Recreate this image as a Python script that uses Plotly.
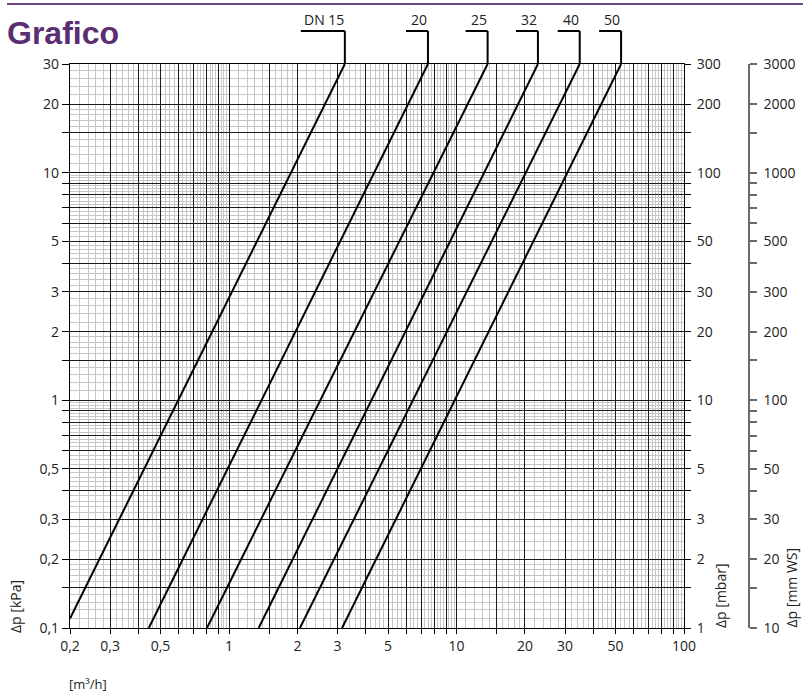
import math
import plotly.graph_objects as go

# Kennlinien: Durchfluss [m3/h] und Druckverlust [kPa] an Anfang/Ende jeder Linie
dn_labels = ["DN 15", "20", "25", "32", "40", "50"]
q_start = [0.2, 0.444, 0.80, 1.35, 2.05, 3.14]
dp_start = [0.11, 0.1, 0.1, 0.1, 0.1, 0.1]
q_end = [3.23, 7.49, 13.7, 22.8, 34.8, 52.9]
dp_end = [30, 30, 30, 30, 30, 30]

# Achsen-Beschriftungen
x_labels = [0.2, 0.3, 0.5, 1, 2, 3, 5, 10, 20, 30, 50, 100]
y_labels = [0.1, 0.2, 0.3, 0.5, 1, 2, 3, 5, 10, 20, 30]
mbar_labels = [1, 2, 3, 5, 10, 20, 30, 50, 100, 200, 300]
mmws_labels = [10, 20, 30, 50, 100, 200, 300, 500, 1000, 2000, 3000]

# Raster pro Dekade: schwarze Linien und graue Zwischenlinien
major_steps = [1, 1.5, 2, 3, 4, 5, 6, 7, 8, 9]
minor_steps = [1.1, 1.2, 1.3, 1.4, 1.6, 1.7, 1.8, 1.9,
               2.2, 2.4, 2.6, 2.8, 3.2, 3.4, 3.6, 3.8, 4.2, 4.4, 4.6, 4.8,
               5.25, 5.5, 5.75, 6.25, 6.5, 6.75, 7.25, 7.5, 7.75,
               8.25, 8.5, 8.75, 9.25, 9.5, 9.75]

X_MIN, X_MAX = 0.2, 100
Y_MIN, Y_MAX = 0.1, 30

W, H = 803, 693
M_L, M_R, M_T, M_B = 70, 10, 64, 65
PW = W - M_L - M_R
PH = H - M_T - M_B
X_DOMAIN_END = (684 - M_L) / PW
PX_PER_DECADE = PW * X_DOMAIN_END / math.log10(X_MAX / X_MIN)


def grid_values(steps, vmin, vmax):
    vals = []
    for dec in [0.01, 0.1, 1, 10, 100, 1000]:
        for s in steps:
            v = round(s * dec, 6)
            if vmin - 1e-9 <= v <= vmax + 1e-9:
                vals.append(v)
    return sorted(set(vals))


def fmt(v):
    s = ("%g" % v)
    return s.replace(".", ",")


def tick_text(vals, labels):
    return [fmt(v) if any(abs(v - l) < 1e-9 for l in labels) else "" for v in vals]


def py_paper(py):
    return (H - M_B - py) / PH


def px_paper(px):
    return (px - M_L) / PW


x_major = grid_values(major_steps, X_MIN, X_MAX)
x_minor = grid_values(minor_steps, X_MIN, X_MAX)
y_major = grid_values(major_steps, Y_MIN, Y_MAX)
y_minor = grid_values(minor_steps, Y_MIN, Y_MAX)
y2_major = [round(v * 10, 6) for v in y_major]
y3_major = [round(v * 100, 6) for v in y_major]

font_family = "Open Sans"
text_color = "#222222"

fig = go.Figure()
for i in range(len(dn_labels)):
    fig.add_trace(go.Scatter(
        x=[q_start[i], q_end[i]],
        y=[dp_start[i], dp_end[i]],
        mode='lines',
        line=dict(color='black', width=2),
        showlegend=False,
        hoverinfo='skip'
    ))
    # gleiche Linie in mbar und mm WS (unsichtbar, damit die rechten Achsen gezeichnet werden)
    fig.add_trace(go.Scatter(
        x=[q_start[i], q_end[i]],
        y=[dp_start[i] * 10, dp_end[i] * 10],
        yaxis='y2', mode='lines', opacity=0,
        line=dict(color='black', width=0),
        showlegend=False, hoverinfo='skip'
    ))
    fig.add_trace(go.Scatter(
        x=[q_start[i], q_end[i]],
        y=[dp_start[i] * 100, dp_end[i] * 100],
        yaxis='y3', mode='lines', opacity=0,
        line=dict(color='black', width=0),
        showlegend=False, hoverinfo='skip'
    ))

shapes = []
annotations = []
lead_y = py_paper(31)
for i, lab in enumerate(dn_labels):
    seg = 44 if i == 0 else 22
    q_left = q_end[i] / 10 ** (seg / PX_PER_DECADE)
    shapes.append(dict(type='line', xref='x', yref='paper',
                       x0=q_end[i], x1=q_end[i], y0=1, y1=lead_y,
                       line=dict(color='black', width=2)))
    shapes.append(dict(type='line', xref='x', yref='paper',
                       x0=q_left, x1=q_end[i], y0=lead_y, y1=lead_y,
                       line=dict(color='black', width=2)))
    annotations.append(dict(text=lab, xref='x', yref='paper',
                            x=math.log10(q_end[i]), y=lead_y,
                            xanchor='right', yanchor='bottom', xshift=1,
                            showarrow=False,
                            font=dict(size=14, color=text_color, family=font_family)))

# Linie oben
shapes.append(dict(type='line', xref='paper', yref='paper',
                   x0=px_paper(7), x1=px_paper(W), y0=py_paper(4), y1=py_paper(4),
                   line=dict(color='#6b4585', width=2)))

annotations += [
    dict(text="Δp [kPa]", xref='paper', yref='paper', x=px_paper(15), y=py_paper(607),
         textangle=-90, showarrow=False, xanchor='center', yanchor='middle',
         font=dict(size=14, color=text_color, family=font_family)),
    dict(text="Δp [mbar]", xref='paper', yref='paper', x=px_paper(720), y=py_paper(596),
         textangle=-90, showarrow=False, xanchor='center', yanchor='middle',
         font=dict(size=14, color=text_color, family=font_family)),
    dict(text="Δp [mm WS]", xref='paper', yref='paper', x=px_paper(802), y=py_paper(588),
         textangle=-90, showarrow=False, xanchor='right', yanchor='middle',
         font=dict(size=14, color=text_color, family=font_family)),
    dict(text="[m³/h]", xref='paper', yref='paper', x=px_paper(67), y=py_paper(684),
         showarrow=False, xanchor='left', yanchor='middle',
         font=dict(size=13, color=text_color, family=font_family)),
]

major_grid = dict(gridcolor='#1a1a1a', gridwidth=1.2)
minor_grid = dict(showgrid=True, gridcolor='#c6c6c6', gridwidth=1, ticks='')

fig.update_layout(
    width=W, height=H,
    autosize=False,
    margin=dict(l=M_L, r=M_R, t=M_T, b=M_B),
    plot_bgcolor='white',
    paper_bgcolor='white',
    font=dict(family=font_family, size=14, color=text_color),
    title=dict(text="<b>Grafico</b>", xref='container', yref='container',
               x=7 / W, xanchor='left', y=1 - 33 / H, yanchor='middle',
               font=dict(family="Liberation Sans", size=32, color='#5b2d72')),
    xaxis=dict(type='log', range=[math.log10(X_MIN), math.log10(X_MAX)],
               domain=[0, X_DOMAIN_END], automargin=False,
               tickmode='array', tickvals=x_major, ticktext=tick_text(x_major, x_labels),
               showgrid=True, **major_grid,
               minor=dict(tickmode='array', tickvals=x_minor, **minor_grid),
               ticks='outside', ticklen=5, tickcolor='black', tickwidth=1.2,
               showline=True, linecolor='black', linewidth=1.2, mirror=True,
               zeroline=False, tickangle=0),
    yaxis=dict(type='log', range=[math.log10(Y_MIN), math.log10(Y_MAX)],
               automargin=False,
               tickmode='array', tickvals=y_major, ticktext=tick_text(y_major, y_labels),
               showgrid=True, **major_grid,
               minor=dict(tickmode='array', tickvals=y_minor, **minor_grid),
               ticks='outside', ticklen=7, tickcolor='black', tickwidth=1.2,
               showline=True, linecolor='black', linewidth=1.2, mirror=True,
               zeroline=False),
    yaxis2=dict(type='log', range=[math.log10(Y_MIN * 10), math.log10(Y_MAX * 10)],
                overlaying='y', side='right', anchor='x', automargin=False,
                tickmode='array', tickvals=y2_major, ticktext=tick_text(y2_major, mbar_labels),
                showgrid=False, zeroline=False, ticklabelstandoff=3,
                ticks='outside', ticklen=6, tickcolor='black', tickwidth=1.2),
    yaxis3=dict(type='log', range=[math.log10(Y_MIN * 100), math.log10(Y_MAX * 100)],
                overlaying='y', side='right', anchor='free', position=px_paper(749),
                automargin=False, autoshift=False,
                tickmode='array', tickvals=y3_major, ticktext=tick_text(y3_major, mmws_labels),
                showgrid=False, zeroline=False, ticklabelstandoff=4,
                showline=True, linecolor='#6a6a6a', linewidth=1.5,
                ticks='outside', ticklen=7, tickcolor='#6a6a6a', tickwidth=1.5),
    shapes=shapes,
    annotations=annotations,
)

fig.write_html(
    "out.html",
    config={'displayModeBar': False, 'responsive': False},
    post_script="document.body.style.margin='0px'; document.body.style.overflow='hidden';",
)
